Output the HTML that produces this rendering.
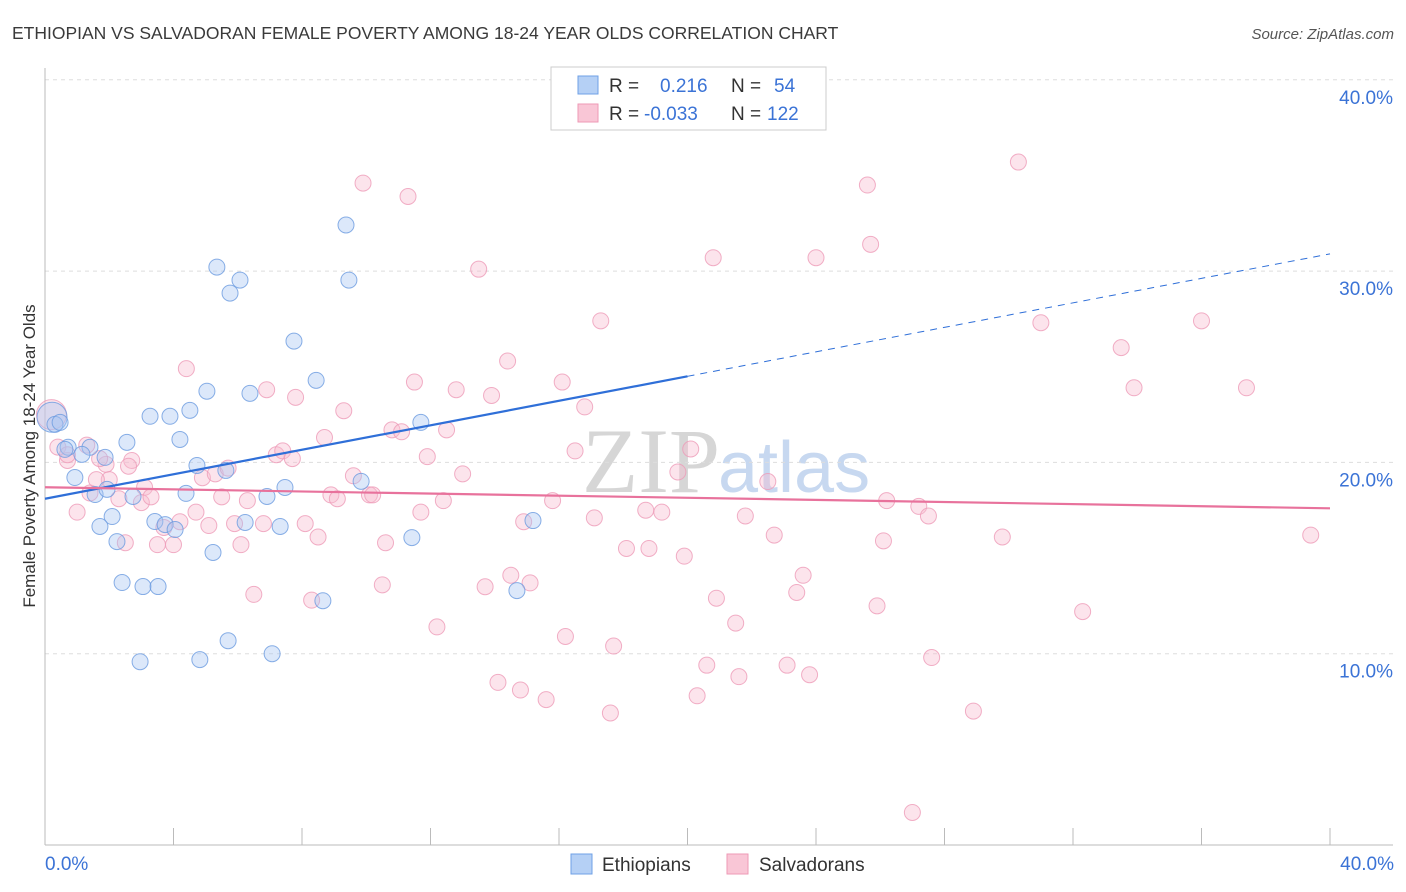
<!DOCTYPE html>
<html><head><meta charset="utf-8"><style>
body{margin:0;width:1406px;height:892px;background:#fff;font-family:"Liberation Sans",sans-serif;overflow:hidden}
svg{position:absolute;left:0;top:0}
</style></head><body>
<svg id="chart" width="1406" height="892">
<text x="12" y="39" font-size="17.5" fill="#3a3a3a">ETHIOPIAN VS SALVADORAN FEMALE POVERTY AMONG 18-24 YEAR OLDS CORRELATION CHART</text>
<text x="1394" y="39" font-size="15" fill="#555" font-style="italic" text-anchor="end">Source: ZipAtlas.com</text>
<text x="35" y="456" font-size="17" fill="#333" text-anchor="middle" transform="rotate(-90 35 456)">Female Poverty Among 18-24 Year Olds</text>
<text x="720" y="492" font-size="92" fill="#d6d6d6" text-anchor="end" font-family="Liberation Serif,serif">ZIP</text>
<text x="718" y="492" font-size="72" fill="#c7d8f0">atlas</text>
<g id="grid"></g><g id="pink"></g><g id="blue"></g><g id="lines"></g>
<g>
<rect x="551" y="67" width="275" height="63" fill="#fff" stroke="#ccc"/>
<rect x="578" y="76" width="20" height="18" fill="#b5d0f5" stroke="#6fa0e6"/>
<rect x="578" y="104" width="20" height="18" fill="#f9c6d6" stroke="#ee99b6"/>
<text x="609" y="92" font-size="19" fill="#333">R =</text>
<text x="660" y="92" font-size="19" fill="#3b73d6">0.216</text>
<text x="731" y="92" font-size="19" fill="#333">N =</text>
<text x="774" y="92" font-size="19" fill="#3b73d6">54</text>
<text x="609" y="120" font-size="19" fill="#333">R =</text>
<text x="644" y="120" font-size="19" fill="#3b73d6">-0.033</text>
<text x="731" y="120" font-size="19" fill="#333">N =</text>
<text x="767" y="120" font-size="19" fill="#3b73d6">122</text>
</g>
<g>
<rect x="571" y="854" width="21" height="20" fill="#b5d0f5" stroke="#6fa0e6"/>
<text x="602" y="871" font-size="19" fill="#333">Ethiopians</text>
<rect x="727" y="854" width="21" height="20" fill="#f9c6d6" stroke="#ee99b6"/>
<text x="759" y="871" font-size="19" fill="#333">Salvadorans</text>
</g>
<text x="45" y="870" font-size="19" fill="#3b73d6">0.0%</text>
<text x="1394" y="870" font-size="19" fill="#3b73d6" text-anchor="end">40.0%</text>
</svg>
<script>
const yTicks=[10,20,30,40];
const xTickVals=[0,4,8,12,16,20,24,28,32,36,40];
const blueX=[0.22,0.31,0.47,0.72,0.62,1.40,1.15,0.93,1.56,1.93,2.09,1.71,2.24,2.55,2.74,2.40,3.05,3.52,2.96,3.27,3.89,4.20,4.51,4.39,4.73,5.04,5.23,5.35,5.76,6.07,5.70,4.82,6.23,6.38,5.63,6.91,7.07,7.32,7.47,7.75,8.44,8.65,9.37,9.46,9.84,11.70,11.42,14.69,15.19,16.37,3.42,3.74,4.05,1.87];
const blueY=[22.36,21.99,22.09,20.79,20.68,20.79,20.42,19.21,18.32,18.59,17.17,16.65,15.86,21.05,18.22,13.72,13.51,13.51,9.58,22.41,22.41,21.20,22.72,18.38,19.84,23.72,15.29,30.21,28.85,29.53,10.68,9.69,16.86,23.61,19.58,18.22,10.0,16.65,18.69,26.34,24.29,12.77,32.41,29.53,19.01,22.09,16.07,13.30,16.96,39.11,16.91,16.75,16.49,20.26];
const pinkX=[0.2,0.4,0.7,1.0,1.4,1.9,2.0,2.3,2.5,2.7,3.0,3.1,3.3,3.5,3.7,4.0,4.2,4.4,4.7,4.9,5.1,5.3,5.5,5.7,5.9,6.1,6.3,6.5,6.8,6.9,7.2,7.4,7.7,7.8,8.1,8.3,8.5,8.7,8.9,9.1,9.3,9.6,9.9,10.1,10.2,10.5,10.6,10.8,11.1,11.3,11.5,11.7,11.9,12.2,12.5,12.4,12.8,13.0,13.5,13.7,13.9,14.1,14.4,14.5,14.8,14.9,15.1,15.6,15.8,16.1,16.2,16.5,16.8,17.1,17.3,17.6,17.7,18.1,18.7,18.8,19.2,19.7,19.9,20.1,20.3,20.6,20.8,20.9,21.5,21.6,21.8,22.5,22.7,23.1,23.4,23.6,23.8,24.0,25.6,25.7,25.9,26.1,26.2,27.2,27.5,27.6,28.9,29.8,30.3,31.0,32.3,33.5,33.9,36.0,37.4,39.4,27.0,2.6,1.6,0.7,1.7,1.3];
const pinkY=[22.5,20.8,20.1,17.4,18.4,19.9,19.1,18.1,15.8,20.1,17.9,18.7,18.2,15.7,16.6,15.7,16.9,24.9,17.4,19.2,16.7,19.4,18.2,19.7,16.8,15.7,18.0,13.1,16.8,23.8,20.4,20.6,20.2,23.4,16.8,12.8,16.1,21.3,18.3,18.1,22.7,19.3,34.6,18.3,18.3,13.6,15.8,21.7,21.6,33.9,24.2,17.4,20.3,11.4,21.7,18.0,23.8,19.4,30.1,13.5,23.5,8.5,25.3,14.1,8.1,16.9,13.7,7.6,18.0,24.2,10.9,20.6,22.9,17.1,27.4,6.9,10.4,15.5,17.5,15.5,17.4,19.5,15.1,20.7,7.8,9.4,30.7,12.9,11.6,8.8,17.2,19.0,16.2,9.4,13.2,14.1,8.9,30.7,34.5,31.4,12.5,15.9,18.0,17.7,17.2,9.8,7.0,16.1,35.7,27.3,12.2,26.0,23.9,27.4,23.9,16.2,1.7,19.8,19.1,20.4,20.2,20.9];
const blueFit=[18.1,0.32]; // intercept, slope
const pinkFit=[18.7,-0.0275];
const NS='http://www.w3.org/2000/svg';
const X0=45,X1=1330,Y0=845,YPX=19.13;
const sx=v=>X0+(X1-X0)*v/40, sy=v=>Y0-v*YPX;
function mk(t,a,p){const e=document.createElementNS(NS,t);for(const k in a)e.setAttribute(k,a[k]);p.appendChild(e);return e;}
const grid=document.getElementById('grid');
yTicks.forEach(t=>{
 const l=mk('line',{x1:X0,x2:1393,y1:sy(t),y2:sy(t),stroke:'#ddd','stroke-dasharray':'4,4'},grid);
 
 
 const tx=mk('text',{x:1393,y:sy(t)+24,'font-size':19,fill:'#3b73d6','text-anchor':'end'},grid);
 tx.textContent=t.toFixed(1)+'%';
 
 
});
const ax=mk('line',{x1:X0,x2:1393,y1:Y0,y2:Y0,stroke:'#bbb'},grid);


const ay=mk('line',{x1:X0,x2:X0,y1:68,y2:Y0,stroke:'#bbb'},grid);


xTickVals.forEach(t=>{
 const l=mk('line',{x1:sx(t),x2:sx(t),y1:828,y2:Y0,stroke:'#bbb'},grid);
 
 
});
function pts(xs,ys,g,fill,stroke,name){
 xs.forEach((x,i)=>{
  const r=(x<0.3&&ys[i]>22)?15:8;
  const c=mk('circle',{cx:sx(x),cy:sy(ys[i]),r:r,fill:fill,'fill-opacity':0.4,stroke:stroke,'stroke-opacity':0.8,'stroke-width':1},g);
  
  
 });
}
pts(pinkX,pinkY,document.getElementById('pink'),'#f7bcd0','#ee9bb8','salvadoran-point');
pts(blueX,blueY,document.getElementById('blue'),'#a8c6f2','#6b9be0','ethiopian-point');
const lg=document.getElementById('lines');
const bl=mk('line',{x1:sx(0),y1:sy(blueFit[0]),x2:sx(20),y2:sy(blueFit[0]+20*blueFit[1]),stroke:'#2f6fd8','stroke-width':2.2},lg);


const bd=mk('line',{x1:sx(20),y1:sy(blueFit[0]+20*blueFit[1]),x2:sx(40),y2:sy(blueFit[0]+40*blueFit[1]),stroke:'#2f6fd8','stroke-width':1,'stroke-dasharray':'7,6'},lg);


const pl=mk('line',{x1:sx(0),y1:sy(pinkFit[0]),x2:sx(40),y2:sy(pinkFit[0]+40*pinkFit[1]),stroke:'#e8729c','stroke-width':2.2},lg);


</script>
</body></html>
